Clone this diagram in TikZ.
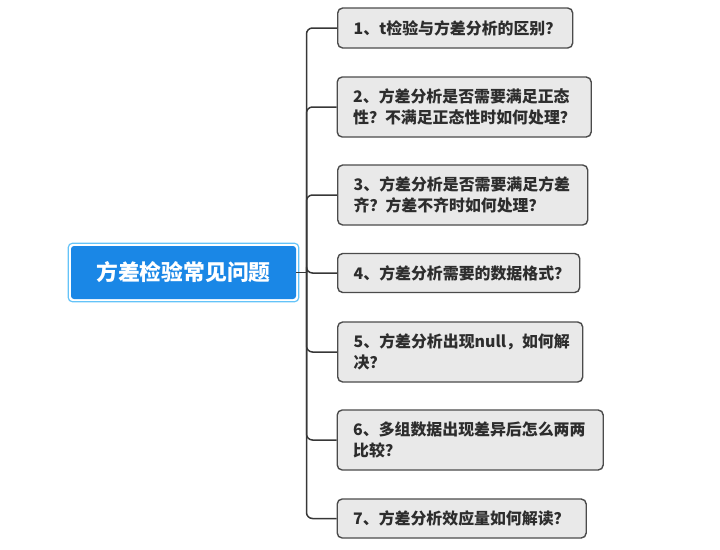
\documentclass[tikz,border=0pt]{standalone}
\usepackage{fontspec}
\newfontfamily\cjk{Noto Sans CJK SC}
\definecolor{rootblue}{RGB}{26,135,230}
\definecolor{ringblue}{RGB}{100,195,248}
\definecolor{boxfill}{RGB}{233,233,233}
\definecolor{boxline}{RGB}{75,75,75}
\definecolor{txt}{RGB}{45,45,45}
\definecolor{conncol}{RGB}{55,55,55}
\tikzset{
  qbox/.style={draw=boxline, fill=boxfill, line width=1.4pt, rounded corners=5pt,
    anchor=west, align=left, inner xsep=16pt, inner ysep=0pt,
    font=\cjk\bfseries\fontsize{15.9pt}{21.5pt}\selectfont, text=txt},
  rootbox/.style={fill=rootblue, rounded corners=3pt, minimum width=225pt, minimum height=53pt,
    inner sep=0pt, font=\cjk\bfseries\fontsize{21.8pt}{26pt}\selectfont, text=white},
  ring/.style={draw=ringblue, line width=1.2pt, rounded corners=4pt},
  conn/.style={draw=conncol, line width=1.5pt, rounded corners=6pt}
}
\begin{document}
\begin{tikzpicture}[x=1pt,y=-1pt]
\useasboundingbox (0,0) rectangle (720,549);
\node[rootbox] (root) at (183.5,272.5) {方差检验常见问题};
\draw[ring] ([shift={(-2.5,-2.5)}]root.north west) rectangle ([shift={(2.5,2.5)}]root.south east);
\coordinate (tr) at (306.5,272.5);
\node[qbox, text width=203pt, minimum height=40pt] (c1) at (337,28) {1、t检验与方差分析的区别？};
\node[qbox, text width=222pt, minimum height=60pt] (c2) at (336.5,107) {2、方差分析是否需要满足正态\\性？不满足正态性时如何处理？};
\node[qbox, text width=218pt, minimum height=60pt] (c3) at (337,195) {3、方差分析是否需要满足方差\\齐？方差不齐时如何处理？};
\node[qbox, text width=210pt, minimum height=39pt] (c4) at (337,273) {4、方差分析需要的数据格式？};
\node[qbox, text width=213pt, minimum height=60pt] (c5) at (337,352) {5、方差分析出现null，如何解\\决？};
\node[qbox, text width=234pt, minimum height=60pt] (c6) at (336.5,440) {6、多组数据出现差异后怎么两两\\比较？};
\node[qbox, text width=217pt, minimum height=39pt] (c7) at (336.5,518.5) {7、方差分析效应量如何解读？};
\draw[conn] (root.east) -- (tr);
\foreach \c in {c1,c2,c3,c4,c5,c6,c7}{
  \draw[conn] (tr) |- (\c.west);
}
\end{tikzpicture}
\end{document}
